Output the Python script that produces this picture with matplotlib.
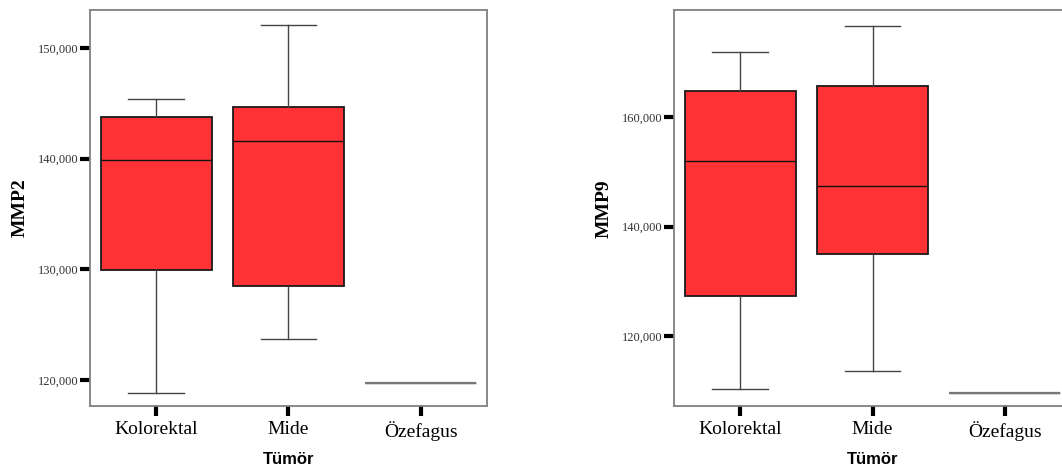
import matplotlib.pyplot as plt

plt.rcParams['font.family'] = ['Liberation Serif', 'DejaVu Serif']

categories = ['Kolorektal', 'Mide', 'Özefagus']

# box stats: lower whisker, Q1, median, Q3, upper whisker
mmp2_low = [118850, 123720, 119730]
mmp2_q1 = [129980, 128480, 119730]
mmp2_med = [139860, 141570, 119730]
mmp2_q3 = [143740, 144640, 119730]
mmp2_high = [145370, 152100, 119730]

mmp9_low = [110390, 113690, 109630]
mmp9_q1 = [127240, 134970, 109630]
mmp9_med = [152050, 147370, 109630]
mmp9_q3 = [164740, 165600, 109630]
mmp9_high = [171860, 176660, 109630]

mmp2_ticks = [120000, 130000, 140000, 150000]
mmp9_ticks = [120000, 140000, 160000]


def make_stats(low, q1, med, q3, high):
    out = []
    for i in range(len(low)):
        out.append({'whislo': low[i], 'q1': q1[i], 'med': med[i],
                    'q3': q3[i], 'whishi': high[i], 'fliers': []})
    return out


def draw_panel(ax, stats, ticks, ylim, ylabel):
    bp = ax.bxp(stats, positions=range(len(stats)), widths=0.84,
                patch_artist=True, showfliers=False,
                boxprops=dict(facecolor='#ff3336', edgecolor='#1a1a1a', linewidth=1.3),
                medianprops=dict(color='#111111', linewidth=1.0),
                whiskerprops=dict(color='#444444', linewidth=1.0),
                capprops=dict(color='#444444', linewidth=1.0))
    # single-value group shows only as a gray line
    bp['boxes'][2].set_edgecolor('#777777')
    bp['boxes'][2].set_linewidth(1.6)
    bp['medians'][2].set_color('#777777')
    for ln in bp['caps'][4:] + bp['whiskers'][4:]:
        ln.set_visible(False)

    ax.set_xlim(-0.5, 2.5)
    ax.set_ylim(*ylim)
    ax.set_xticks(range(len(categories)))
    ax.set_xticklabels(categories, fontsize=14)
    ax.set_yticks(ticks)
    ax.set_yticklabels(['{:,}'.format(t) for t in ticks], fontsize=9, color='#333333')
    ax.tick_params(axis='both', direction='out', length=7, width=3, color='black')
    ax.tick_params(axis='x', pad=4)
    ax.tick_params(axis='y', pad=1)
    for s in ax.spines.values():
        s.set_color('#808080')
        s.set_linewidth(1.3)
    ax.set_ylabel(ylabel, fontsize=14, fontweight='bold', labelpad=7)
    ax.set_xlabel('Tümör', fontsize=12, fontweight='bold', family=['Liberation Sans', 'DejaVu Sans'], labelpad=8)


fig = plt.figure(figsize=(10.62, 4.74), dpi=100)
ax1 = fig.add_axes([0.0847, 0.1435, 0.3738, 0.8355])
ax2 = fig.add_axes([0.6347, 0.1435, 0.3738, 0.8345])

draw_panel(ax1, make_stats(mmp2_low, mmp2_q1, mmp2_med, mmp2_q3, mmp2_high),
           mmp2_ticks, (117660, 153420), 'MMP2')
draw_panel(ax2, make_stats(mmp9_low, mmp9_q1, mmp9_med, mmp9_q3, mmp9_high),
           mmp9_ticks, (107230, 179470), 'MMP9')

fig.savefig('out.png', dpi=100)
